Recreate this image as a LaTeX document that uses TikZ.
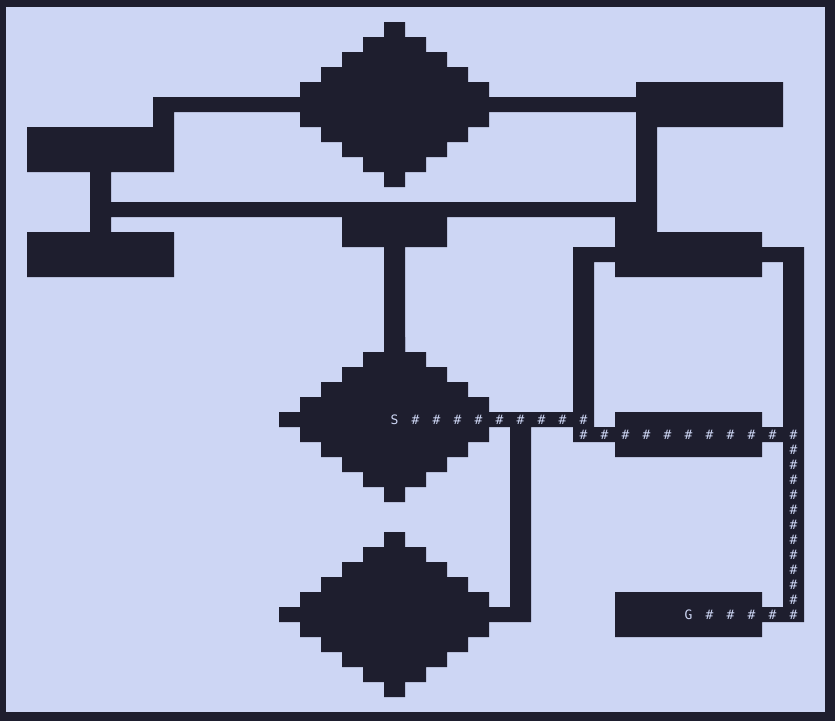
\documentclass[tikz,border=0pt]{standalone}
\usepackage{fontspec}
\setmonofont{DejaVu Sans Mono}
\definecolor{ink}{HTML}{1E1E2E}
\definecolor{paper}{HTML}{CDD6F4}
\tikzset{
  glyph/.style={inner sep=0pt, outer sep=0pt, text=paper, anchor=center,
    font=\ttfamily\fontsize{13}{13}\selectfont},
}
\begin{document}
\begin{tikzpicture}[x=1pt,y=1pt]
\useasboundingbox (0,0) rectangle (835,-721);
\fill[ink] (0,0) rectangle (835,-721);
\fill[paper] (6,-7) rectangle (825,-712);
\begin{scope}[shift={(6pt,-7pt)}, x=21pt, y=-15pt]
  % boxes and connector bars (c1/r1/c2/r2, inclusive cells)
  \fill[ink] foreach \a/\b/\c/\d in {
      1/8/7/10, 1/15/7/17, 30/5/36/7, 16/13/20/15, 29/15/35/17,
      29/27/35/29, 29/39/35/41,
      7/6/29/6, 7/6/7/7, 4/11/4/14, 4/13/30/13, 30/8/30/14, 29/14/30/14,
      18/16/18/22, 27/16/37/16, 27/16/27/28, 37/16/37/40,
      13/27/27/27, 27/28/37/28, 24/27/24/40, 13/40/24/40, 29/40/37/40}
    {(\a,\b) rectangle ({\c+1},{\d+1})};
  % pixel diamonds
  \foreach \cx/\cy in {18/6, 18/27, 18/40}{
    \fill[ink] foreach \k/\h in {-5/0,-4/1,-3/2,-2/3,-1/4,0/4,1/4,2/3,3/2,4/1,5/0}
      {({\cx-\h},{\cy+\k}) rectangle ({\cx+\h+1},{\cy+\k+1})};
  }
  % path marks
  \node[glyph] (S) at (18.5,27.5) {S};
  \node[glyph] (G) at (32.5,40.5) {G};
  \foreach \c in {19,...,27} \node[glyph] (a\c) at (\c+0.5,27.5) {\#};
  \foreach \c in {27,...,37} \node[glyph] (b\c) at (\c+0.5,28.5) {\#};
  \foreach \r in {29,...,40} \node[glyph] (v\r) at (37.5,\r+0.5) {\#};
  \foreach \c in {33,...,36} \node[glyph] (g\c) at (\c+0.5,40.5) {\#};
\end{scope}
\end{tikzpicture}
\end{document}
